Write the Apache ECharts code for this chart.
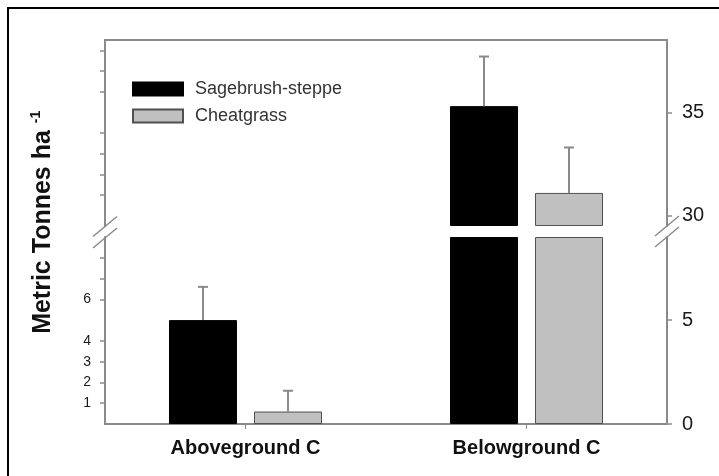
<!DOCTYPE html>
<html>
<head>
<meta charset="utf-8">
<script src="https://cdn.jsdelivr.net/npm/echarts@6/dist/echarts.min.js"></script>
<style>html,body{margin:0;padding:0;background:#fff;}#c{width:719px;height:476px;}</style>
</head>
<body>
<div id="c"></div>
<script>
// ---- data ----
var categories = ['Aboveground C', 'Belowground C'];
var seriesNames = ['Sagebrush-steppe', 'Cheatgrass'];
var sagebrush = [5.0, 35.3];
var sagebrushErr = [1.6, 2.4];
var cheatgrass = [0.6, 31.1];
var cheatgrassErr = [1.0, 2.2];
// axis ranges / ticks (broken axis)
var lowerRange = [0, 9];
var upperRange = [29.5, 38.5];
var leftLowerTicks = [1, 2, 3, 4, 6, 7, 8];
var leftLowerLabels = [1, 2, 3, 4, 6];
var leftUpperTicks = [31, 32, 33, 34, 36, 37, 38];
var rightLowerTicks = [0, 5];
var rightUpperTicks = [30, 35];

// ---- styles ----
var AXIS = '#8a8a8a';
var BAR_W = 68, GAP = 17;
var OFFSET = (BAR_W + GAP) / 2;
var FONT = 'Liberation Sans, Arial, sans-serif';

var chart = echarts.init(document.getElementById('c'), null, {renderer: 'canvas'});

function lowerVals(arr) { return arr.map(function (v) { return Math.min(v, lowerRange[1]); }); }
function upperBase(arr) { return arr.map(function (v) { return v > upperRange[0] ? upperRange[0] : '-'; }); }
function upperTop(arr) { return arr.map(function (v) { return v > upperRange[0] ? +(v - upperRange[0]).toFixed(3) : '-'; }); }
function errData(vals, errs, upper) {
  var out = [];
  vals.forEach(function (v, i) {
    var inUpper = v > lowerRange[1];
    if (inUpper === upper) out.push([i, v, v + errs[i]]);
  });
  return out;
}
function errRender(sign) {
  return function (params, api) {
    var x = api.value(0), v = api.value(1), t = api.value(2);
    var p0 = api.coord([x, v]), p1 = api.coord([x, t]);
    var cx = p0[0] + sign * OFFSET;
    return {
      type: 'group',
      children: [
        {type: 'line', shape: {x1: cx, y1: p0[1], x2: cx, y2: p1[1]}, style: {stroke: AXIS, lineWidth: 2}},
        {type: 'line', shape: {x1: cx - 5, y1: p1[1], x2: cx + 5, y2: p1[1]}, style: {stroke: AXIS, lineWidth: 2}}
      ]
    };
  };
}

var sageStyle = {color: '#000000', borderColor: '#000000', borderWidth: 1};
var cheatStyle = {color: '#c0c0c0', borderColor: '#505050', borderWidth: 1};

function yAx(grid, pos, range, ticks, labels, fontSize) {
  return {
    type: 'value', gridIndex: grid, position: pos, min: range[0], max: range[1],
    splitLine: {show: false},
    axisLine: {show: true, lineStyle: {color: AXIS, width: 2}},
    axisTick: {show: true, length: 5, lineStyle: {color: AXIS, width: 1.5}, customValues: ticks},
    axisLabel: {show: labels.length > 0, customValues: labels, fontSize: fontSize, color: '#1a1a1a', fontFamily: FONT, margin: pos === 'left' ? 14 : 15}
  };
}

var option = {
  animation: false,
  backgroundColor: '#ffffff',
  grid: [
    {left: 105, right: 52, top: 40, height: 186},
    {left: 105, right: 52, top: 237, bottom: 52}
  ],
  legend: {
    data: seriesNames, orient: 'vertical', left: 127, top: 75,
    itemWidth: 50, itemHeight: 13, itemGap: 9, icon: 'rect',
    textStyle: {fontSize: 18, color: '#333', fontFamily: FONT, padding: [0, 0, 0, 7]},
    selectedMode: false
  },
  xAxis: [
    {type: 'category', gridIndex: 0, data: categories, position: 'top',
     axisLine: {show: true, lineStyle: {color: AXIS, width: 2}}, axisTick: {show: false}, axisLabel: {show: false}},
    {type: 'category', gridIndex: 1, data: categories, position: 'bottom',
     axisLine: {show: true, lineStyle: {color: AXIS, width: 2}},
     axisTick: {show: true, alignWithLabel: true, length: 5, lineStyle: {color: AXIS}},
     axisLabel: {fontSize: 20, fontWeight: 'bold', color: '#111', fontFamily: FONT, margin: 14}}
  ],
  yAxis: [
    yAx(0, 'left', upperRange, leftUpperTicks, [], 14),
    yAx(0, 'right', upperRange, rightUpperTicks, rightUpperTicks, 20),
    yAx(1, 'left', lowerRange, leftLowerTicks, leftLowerLabels, 14),
    yAx(1, 'right', lowerRange, rightLowerTicks, rightLowerTicks, 20)
  ],
  series: [
    // lower segment
    {name: seriesNames[0], type: 'bar', xAxisIndex: 1, yAxisIndex: 2, data: lowerVals(sagebrush),
     barWidth: BAR_W, barGap: (GAP / BAR_W * 100) + '%', itemStyle: sageStyle, clip: false},
    {name: seriesNames[1], type: 'bar', xAxisIndex: 1, yAxisIndex: 2, data: lowerVals(cheatgrass),
     barWidth: BAR_W, barGap: (GAP / BAR_W * 100) + '%', itemStyle: cheatStyle, clip: false},
    // upper segment (stacked on an invisible base so the bar starts at the break)
    {name: '_baseS', type: 'bar', stack: 'S', xAxisIndex: 0, yAxisIndex: 0, data: upperBase(sagebrush),
     barWidth: BAR_W, barGap: (GAP / BAR_W * 100) + '%', itemStyle: {color: 'rgba(0,0,0,0)'}, silent: true},
    {name: seriesNames[0], type: 'bar', stack: 'S', xAxisIndex: 0, yAxisIndex: 0, data: upperTop(sagebrush),
     barWidth: BAR_W, barGap: (GAP / BAR_W * 100) + '%', itemStyle: sageStyle, clip: false},
    {name: '_baseC', type: 'bar', stack: 'C', xAxisIndex: 0, yAxisIndex: 0, data: upperBase(cheatgrass),
     barWidth: BAR_W, barGap: (GAP / BAR_W * 100) + '%', itemStyle: {color: 'rgba(0,0,0,0)'}, silent: true},
    {name: seriesNames[1], type: 'bar', stack: 'C', xAxisIndex: 0, yAxisIndex: 0, data: upperTop(cheatgrass),
     barWidth: BAR_W, barGap: (GAP / BAR_W * 100) + '%', itemStyle: cheatStyle, clip: false},
    // error bars
    {type: 'custom', xAxisIndex: 1, yAxisIndex: 2, data: errData(sagebrush, sagebrushErr, false), renderItem: errRender(-1), clip: false, z: 5},
    {type: 'custom', xAxisIndex: 1, yAxisIndex: 2, data: errData(cheatgrass, cheatgrassErr, false), renderItem: errRender(1), clip: false, z: 5},
    {type: 'custom', xAxisIndex: 0, yAxisIndex: 0, data: errData(sagebrush, sagebrushErr, true), renderItem: errRender(-1), clip: false, z: 5},
    {type: 'custom', xAxisIndex: 0, yAxisIndex: 0, data: errData(cheatgrass, cheatgrassErr, true), renderItem: errRender(1), clip: false, z: 5}
  ],
  graphic: [
    {type: 'rect', shape: {x: 8, y: 8, width: 760, height: 520}, style: {fill: 'none', stroke: '#000', lineWidth: 2}, silent: true},
    {type: 'text', x: 43, y: 232, rotation: Math.PI / 2,
     style: {text: 'Metric Tonnes ha', font: 'bold 25px ' + FONT, fill: '#111', textAlign: 'center', textVerticalAlign: 'middle'}},
    {type: 'text', x: 36, y: 117, rotation: Math.PI / 2,
     style: {text: '-1', font: 'bold 14px ' + FONT, fill: '#111', textAlign: 'center', textVerticalAlign: 'middle'}},
    // axis break marks
    {type: 'line', shape: {x1: 93, y1: 236.5, x2: 117, y2: 216.5}, style: {stroke: AXIS, lineWidth: 1.5}},
    {type: 'line', shape: {x1: 93, y1: 248, x2: 117, y2: 228}, style: {stroke: AXIS, lineWidth: 1.5}},
    {type: 'line', shape: {x1: 655, y1: 236, x2: 679, y2: 216}, style: {stroke: AXIS, lineWidth: 1.5}},
    {type: 'line', shape: {x1: 655, y1: 247, x2: 679, y2: 227}, style: {stroke: AXIS, lineWidth: 1.5}}
  ]
};
chart.setOption(option);
</script>
</body>
</html>
